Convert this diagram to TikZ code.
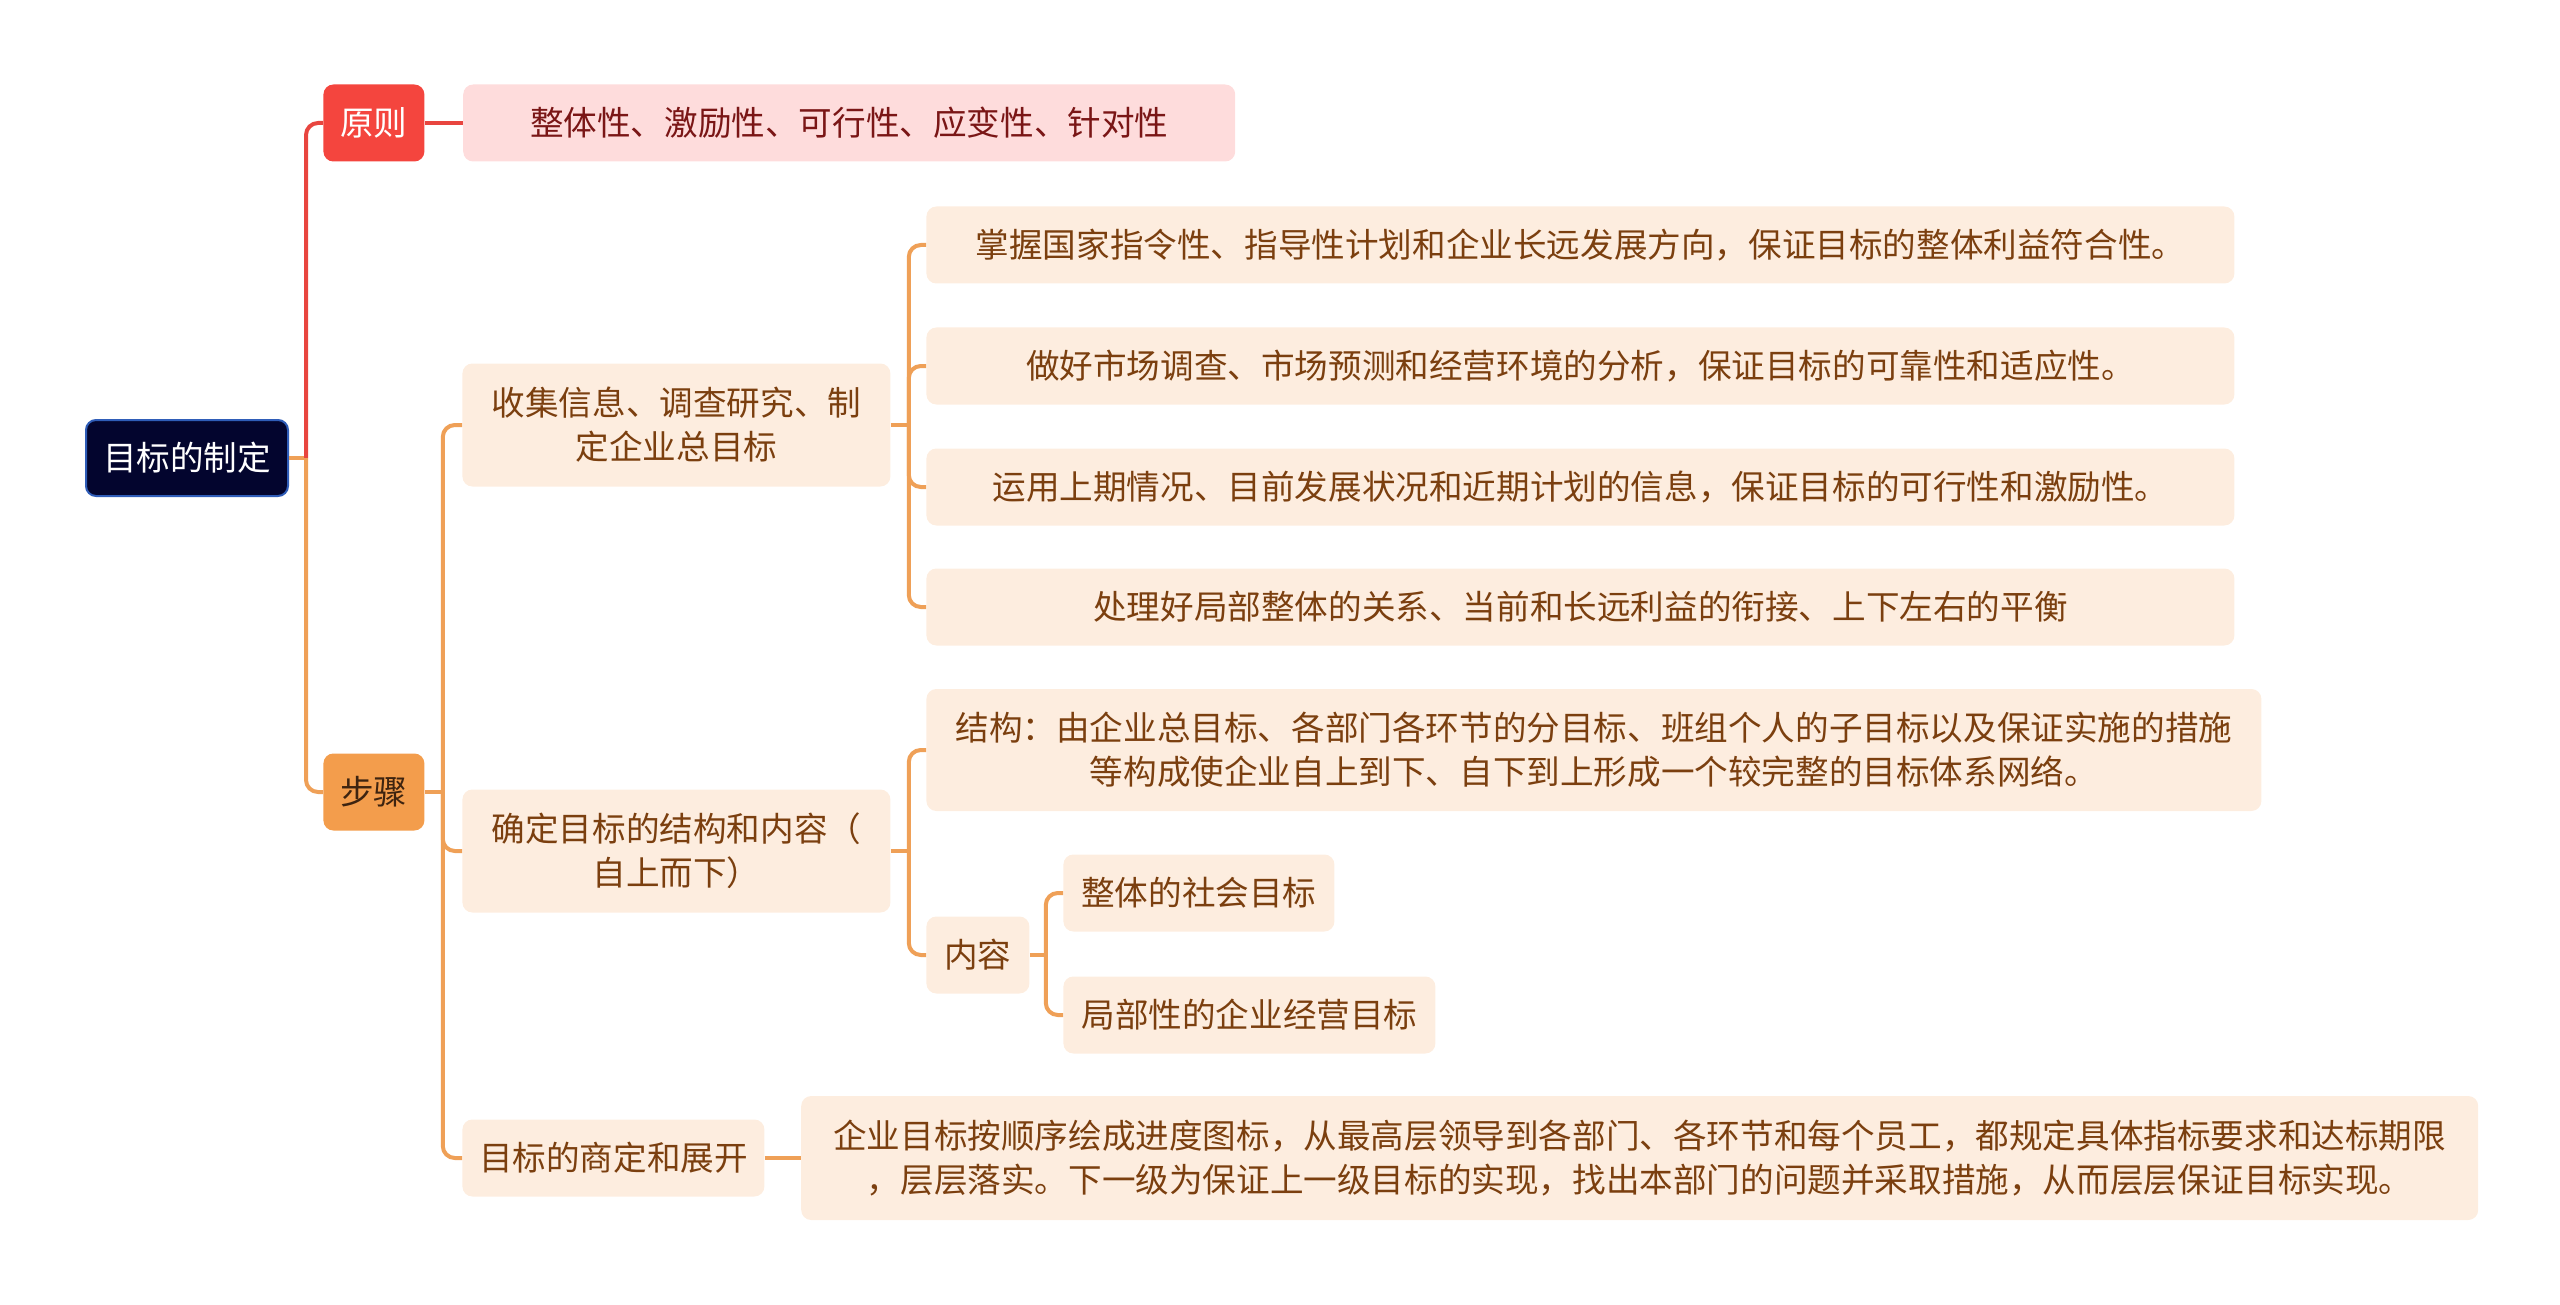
\documentclass[tikz,border=0pt]{standalone}
\usepackage{fontspec}
\setmainfont{Noto Sans CJK SC}
\usetikzlibrary{positioning,calc}

\definecolor{rootfill}{HTML}{03052E}
\definecolor{rootedge}{HTML}{2F5DB8}
\definecolor{redfill}{HTML}{F4453E}
\definecolor{pinkfill}{HTML}{FEDCDC}
\definecolor{orangefill}{HTML}{F39D4C}
\definecolor{peachfill}{HTML}{FDEDDF}
\definecolor{browntext}{HTML}{7B3F0F}
\definecolor{darkbrown}{HTML}{3E2410}
\definecolor{darkred}{HTML}{7A1616}
\definecolor{redlink}{HTML}{E8453F}
\definecolor{orangelink}{HTML}{EFA057}

\begin{document}
\begin{tikzpicture}[
  x=0.5pt, y=-0.5pt,
  base/.style={
    rounded corners=5pt, align=center, inner sep=0pt, anchor=west,
    font=\fontsize{16.8}{22}\selectfont
  },
  rootbox/.style={base, fill=rootfill, draw=rootedge, line width=1pt,
    text=white, minimum width=101pt, minimum height=38pt},
  redtopic/.style={base, fill=redfill, text=white,
    minimum width=50.5pt, minimum height=38.5pt},
  orangetopic/.style={base, fill=orangefill, text=darkbrown,
    minimum width=50.5pt, minimum height=38.5pt},
  leaf/.style={base, fill=peachfill, text=browntext, minimum height=38.5pt},
  pinkleaf/.style={base, fill=pinkfill, text=darkred, minimum height=38.5pt},
  link/.style={line width=2pt, orangelink, rounded corners=6pt}
]
\useasboundingbox (0,0) rectangle (2560,1305);

% Root and main branches
\node[rootbox] (root) at (85,458) {目标的制定};
\node[redtopic] (yuanze) at (323,123) {原则};
\node[orangetopic] (buzhou) at (323,792) {步骤};

\node[pinkleaf, minimum width=386pt, right=19pt of yuanze] (yzleaf)
  {整体性、激励性、可行性、应变性、针对性};

% Steps
\node[leaf, minimum width=214pt, minimum height=61.5pt] (shouji) at (462,425)
  {收集信息、调查研究、制\\定企业总目标};
\node[leaf, minimum width=214pt, minimum height=61.5pt] (queding) at (462,851)
  {确定目标的结构和内容（\\自上而下）};
\node[leaf, minimum width=151pt] (shangding) at (462,1158) {目标的商定和展开};

% Details of collecting
\node[leaf, minimum width=654pt] (c1) at (926,245)
  {掌握国家指令性、指导性计划和企业长远发展方向，保证目标的整体利益符合性。};
\node[leaf, minimum width=654pt] (c2) at (926,366)
  {做好市场调查、市场预测和经营环境的分析，保证目标的可靠性和适应性。};
\node[leaf, minimum width=654pt] (c3) at (926,487)
  {运用上期情况、目前发展状况和近期计划的信息，保证目标的可行性和激励性。};
\node[leaf, minimum width=654pt] (c4) at (926,607)
  {处理好局部整体的关系、当前和长远利益的衔接、上下左右的平衡};

% Structure and content
\node[leaf, minimum width=667.5pt, minimum height=61pt] (jiegou) at (926,750)
  {结构：由企业总目标、各部门各环节的分目标、班组个人的子目标以及保证实施的措施\\等构成使企业自上到下、自下到上形成一个较完整的目标体系网络。};
\node[leaf, minimum width=51.5pt] (neirong) at (926,955) {内容};
\node[leaf, minimum width=135.5pt] (zhengti) at (1063,893) {整体的社会目标};
\node[leaf, minimum width=186pt] (jubu) at (1063,1015) {局部性的企业经营目标};

\node[leaf, minimum width=838.5pt, minimum height=62pt, right=18pt of shangding] (qiye)
  {企业目标按顺序绘成进度图标，从最高层领导到各部门、各环节和每个员工，都规定具体指标要求和达标期限\\，层层落实。下一级为保证上一级目标的实现，找出本部门的问题并采取措施，从而层层保证目标实现。};

% Connectors
\coordinate (j0) at ($(root.east)+(17,0)$);
\draw[link] (root.east) -- (j0);
\draw[link, redlink] (j0) |- (yuanze.west);
\draw[link] (j0) |- (buzhou.west);
\draw[link, redlink] (yuanze) -- (yzleaf);

\coordinate (j1) at ($(buzhou.east)+(18,0)$);
\draw[link] (buzhou.east) -- (j1);
\foreach \n in {shouji,queding,shangding}
  \draw[link] (j1) |- (\n.west);

\coordinate (j2) at ($(shouji.east)+(18,0)$);
\draw[link] (shouji.east) -- (j2);
\foreach \n in {c1,c2,c3,c4}
  \draw[link] (j2) |- (\n.west);

\coordinate (j3) at ($(queding.east)+(18,0)$);
\draw[link] (queding.east) -- (j3);
\foreach \n in {jiegou,neirong}
  \draw[link] (j3) |- (\n.west);

\coordinate (j4) at ($(neirong.east)+(16,0)$);
\draw[link] (neirong.east) -- (j4);
\foreach \n in {zhengti,jubu}
  \draw[link] (j4) |- (\n.west);

\draw[link] (shangding) -- (qiye);

\end{tikzpicture}
\end{document}
